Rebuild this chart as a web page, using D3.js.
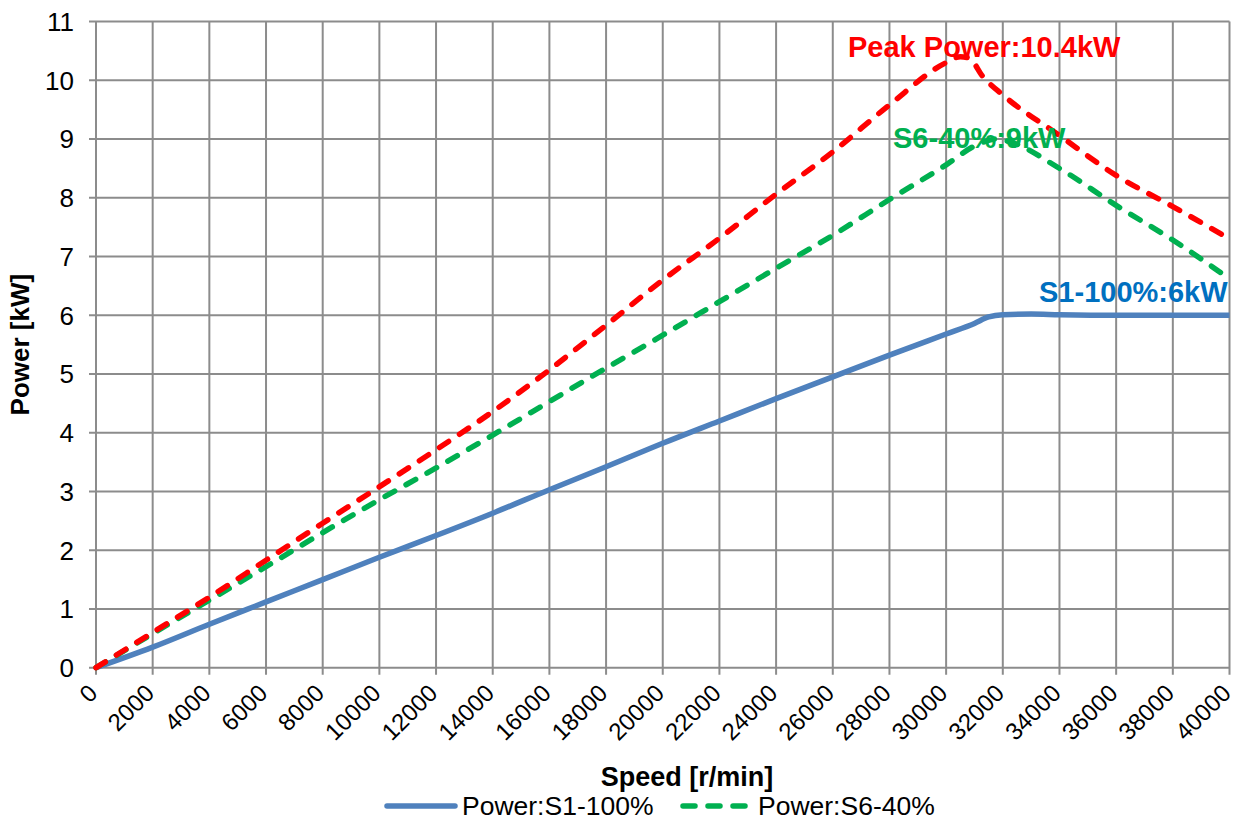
<!DOCTYPE html>
<html>
<head>
<meta charset="utf-8">
<script src="https://cdn.jsdelivr.net/npm/d3@7"></script>
<style>
  body { margin: 0; background: #fff; }
  svg { font-family: "Liberation Sans", Arial, sans-serif; }
</style>
</head>
<body>
<svg id="chart" width="1240" height="823"></svg>
<script>
// speed [r/min] and power [kW]
var s1Speed = [0, 2000, 4000, 6000, 8000, 10000, 12000, 14000, 16000, 18000, 20000, 22000, 24000, 26000, 28000, 30000, 31000, 31500, 32000, 33000, 34000, 36000, 38000, 40000];
var s1Power = [0, 0.35, 0.74, 1.12, 1.5, 1.88, 2.25, 2.63, 3.03, 3.42, 3.82, 4.2, 4.58, 4.95, 5.32, 5.68, 5.86, 5.97, 6.01, 6.02, 6.01, 6.0, 6.0, 6.0];

var s6Speed = [0, 2000, 4000, 6000, 8000, 10000, 12000, 14000, 16000, 18000, 20000, 22000, 24000, 26000, 28000, 30000, 31000, 31800, 32200, 34000, 36000, 38000, 40000];
var s6Power = [0, 0.58, 1.15, 1.72, 2.3, 2.86, 3.4, 3.96, 4.53, 5.1, 5.66, 6.23, 6.8, 7.36, 7.97, 8.56, 8.88, 9.0, 8.96, 8.5, 7.87, 7.28, 6.62];

var peakSpeed = [0, 2000, 4000, 6000, 8000, 10000, 12000, 14000, 16000, 18000, 20000, 22000, 24000, 26000, 28000, 30000, 30500, 30800, 31300, 32000, 34000, 36000, 38000, 40000];
var peakPower = [0, 0.6, 1.2, 1.83, 2.46, 3.08, 3.71, 4.36, 5.07, 5.83, 6.6, 7.31, 8.06, 8.78, 9.58, 10.3, 10.4, 10.38, 10.06, 9.75, 9.06, 8.38, 7.85, 7.3];

var xTicks = d3.range(0, 40001, 2000);
var yTicks = d3.range(0, 12, 1);

var legendNames = ["Power:S1-100%", "Power:S6-40%"];

var svg = d3.select("#chart");

var x = d3.scaleLinear().domain([0, 40000]).range([96, 1229.5]);
var y = d3.scaleLinear().domain([0, 11]).range([667.7, 21.5]);

var gridColor = "#8c8c8c";

// grid
svg.append("g").selectAll("line").data(xTicks).enter().append("line")
  .attr("x1", function(d) { return x(d); })
  .attr("x2", function(d) { return x(d); })
  .attr("y1", y(11)).attr("y2", y(0) + 7)
  .attr("stroke", gridColor).attr("stroke-width", 2);

svg.append("g").selectAll("line").data(yTicks).enter().append("line")
  .attr("x1", x(0) - 7).attr("x2", x(40000))
  .attr("y1", function(d) { return y(d); })
  .attr("y2", function(d) { return y(d); })
  .attr("stroke", gridColor).attr("stroke-width", 2);

// y tick labels
svg.append("g").selectAll("text").data(yTicks).enter().append("text")
  .attr("x", 74).attr("y", function(d) { return y(d); })
  .attr("dy", "0.36em")
  .attr("text-anchor", "end")
  .attr("font-size", 26)
  .text(function(d) { return d; });

// x tick labels (rotated)
svg.append("g").selectAll("text").data(xTicks).enter().append("text")
  .attr("transform", function(d) { return "translate(" + (x(d) - 3) + "," + (y(0) + 21) + ") rotate(-45)"; })
  .attr("text-anchor", "end")
  .attr("dy", "0.35em")
  .attr("font-size", 24)
  .text(function(d) { return d; });

// axis titles
svg.append("text")
  .attr("transform", "translate(29," + ((y(0) + y(11)) / 2) + ") rotate(-90)")
  .attr("text-anchor", "middle")
  .attr("font-size", 26).attr("font-weight", "bold")
  .text("Power [kW]");

svg.append("text")
  .attr("x", 687).attr("y", 786)
  .attr("text-anchor", "middle")
  .attr("font-size", 27).attr("font-weight", "bold")
  .text("Speed [r/min]");

// lines
var line = d3.line()
  .x(function(d) { return x(d[0]); })
  .y(function(d) { return y(d[1]); })
  .curve(d3.curveMonotoneX);

var series = [
  {sp: s1Speed, pw: s1Power, color: "#4f81bd", dash: null},
  {sp: s6Speed, pw: s6Power, color: "#00b050", dash: "11,13"},
  {sp: peakSpeed, pw: peakPower, color: "#ff0000", dash: "11,13"}
];

series.forEach(function(s) {
  var pts = s.sp.map(function(v, i) { return [v, s.pw[i]]; });
  svg.append("path")
    .datum(pts)
    .attr("d", line)
    .attr("fill", "none")
    .attr("stroke", s.color)
    .attr("stroke-width", 5.5)
    .attr("stroke-linecap", s.dash ? "round" : "butt")
    .attr("stroke-dasharray", s.dash);
});

// annotations
svg.append("text").attr("x", 848).attr("y", 57)
  .attr("font-size", 29).attr("font-weight", "bold").attr("fill", "#ff0000")
  .text("Peak Power:10.4kW");
svg.append("text").attr("x", 893).attr("y", 148)
  .attr("font-size", 29).attr("font-weight", "bold").attr("fill", "#00b050")
  .text("S6-40%:9kW");
svg.append("text").attr("x", 1039).attr("y", 302)
  .attr("font-size", 29).attr("font-weight", "bold").attr("fill", "#0070c0")
  .text("S1-100%:6kW");

// legend
var leg = svg.append("g");
leg.append("line").attr("x1", 387).attr("x2", 455).attr("y1", 806).attr("y2", 806)
  .attr("stroke", "#4f81bd").attr("stroke-width", 5.5).attr("stroke-linecap", "round");
leg.append("text").attr("x", 462).attr("y", 806).attr("dy", "0.35em")
  .attr("font-size", 26.5).text(legendNames[0]);
leg.append("line").attr("x1", 683).attr("x2", 745).attr("y1", 806).attr("y2", 806)
  .attr("stroke", "#00b050").attr("stroke-width", 5.5).attr("stroke-linecap", "round")
  .attr("stroke-dasharray", "12,13");
leg.append("text").attr("x", 758).attr("y", 806).attr("dy", "0.35em")
  .attr("font-size", 26.5).text(legendNames[1]);
</script>
</body>
</html>
